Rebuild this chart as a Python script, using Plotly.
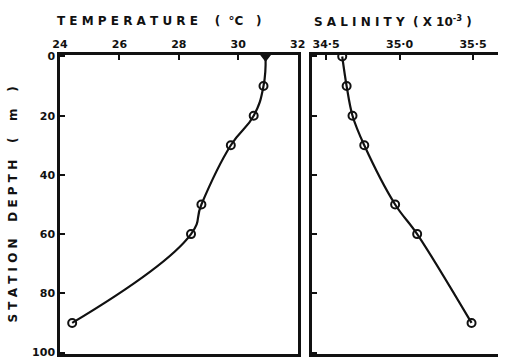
import plotly.graph_objects as go

# Station profile readings
depth_m = [0, 10, 20, 30, 50, 60, 90]
temperature_c = [30.92, 30.85, 30.52, 29.75, 28.76, 28.41, 24.41]
salinity_e3 = [34.61, 34.64, 34.68, 34.76, 34.97, 35.12, 35.49]

temp_ticks = [24, 26, 28, 30, 32]
sal_ticks = [34.5, 35.0, 35.5]
sal_ticktext = ["<b>34·5</b>", "<b>35·0</b>", "<b>35·5</b>"]
depth_ticks = [0, 20, 40, 60, 80, 100]

W, H = 506, 359
ML, MR, MT, MB = 60, 0, 55, 2
plot_w = W - ML - MR
left_dom = [0, (302 - ML) / plot_w]
right_dom = [(317 - ML) / plot_w, 1]

INK = "#111111"
tick_font = dict(family="DejaVu Sans", size=11, color=INK)

fig = go.Figure()

temp_symbols = ["triangle-down"] + ["circle-open"] * (len(depth_m) - 1)
fig.add_trace(go.Scatter(
    x=temperature_c, y=depth_m, xaxis="x", yaxis="y",
    mode="lines+markers",
    line=dict(color=INK, width=2.2, shape="spline", smoothing=1.3),
    marker=dict(symbol=temp_symbols, size=8, color=INK,
                line=dict(color=INK, width=2)),
    showlegend=False, hoverinfo="skip",
))
fig.add_trace(go.Scatter(
    x=salinity_e3, y=depth_m, xaxis="x2", yaxis="y2",
    mode="lines+markers",
    line=dict(color=INK, width=2.2, shape="spline", smoothing=1.0),
    marker=dict(symbol="circle-open", size=8, color=INK,
                line=dict(color=INK, width=2)),
    showlegend=False, hoverinfo="skip",
))

xcommon = dict(side="top", showgrid=False, zeroline=False, showline=True,
               linecolor=INK, linewidth=2.5, mirror=True, ticks="inside",
               ticklen=5, tickwidth=1.5, tickcolor=INK, tickfont=tick_font,
               ticklabeloverflow="allow")
ycommon = dict(range=[100.5, -0.5], showgrid=False, zeroline=False,
               showline=True, linecolor=INK, linewidth=2.5, ticks="inside",
               ticklen=5, tickwidth=1.5, tickcolor=INK, tickvals=depth_ticks,
               ticklabeloverflow="allow")

fig.update_layout(
    width=W, height=H,
    margin=dict(l=ML, r=MR, t=MT, b=MB),
    paper_bgcolor="white", plot_bgcolor="white",
    xaxis=dict(domain=left_dom, range=[24, 32], tickvals=temp_ticks,
               ticktext=[f"<b>{v}</b>" for v in temp_ticks],
               anchor="y", **xcommon),
    yaxis=dict(domain=[0, 1], anchor="x", mirror=True,
               ticktext=[f"<b>{v}</b>" for v in depth_ticks],
               tickfont=tick_font, **ycommon),
    xaxis2=dict(domain=right_dom, range=[34.407, 35.67], tickvals=sal_ticks,
                ticktext=sal_ticktext, anchor="y2", **xcommon),
    yaxis2=dict(domain=[0, 1], anchor="x2", mirror=False,
                showticklabels=False, **ycommon),
)

title_font = dict(family="DejaVu Sans", size=12, color=INK)
fig.add_annotation(
    text="<b>T E M P E R A T U R E    (  °C   )</b>",
    xref="paper", yref="paper", x=-0.012, y=1.0, yshift=34,
    xanchor="left", yanchor="middle", showarrow=False, font=title_font,
)
fig.add_annotation(
    text="<b>S A L I N I T Y  ( X 10<sup>-3</sup> )</b>",
    xref="paper", yref="paper", x=right_dom[0], y=1.0, yshift=34,
    xanchor="left", yanchor="middle", showarrow=False, font=title_font,
)
fig.add_annotation(
    text="<b>S T A T I O N    D E P T H    (    m    )</b>",
    xref="paper", yref="paper", x=0, xshift=-48, y=0.5,
    xanchor="center", yanchor="middle", textangle=-90, showarrow=False,
    font=dict(family="DejaVu Sans", size=12, color=INK),
)

fig.write_html("out.html")
